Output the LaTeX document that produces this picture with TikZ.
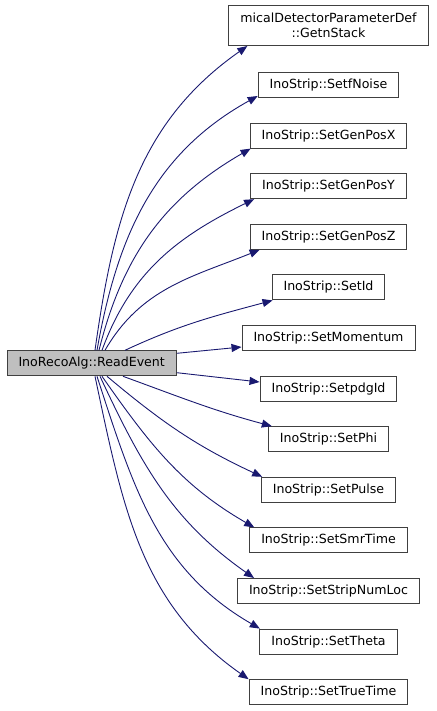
\documentclass[tikz,border=0pt]{standalone}
\usepackage{fontspec}
\setmainfont{DejaVu Sans}
\usetikzlibrary{arrows.meta,positioning}
\definecolor{edgeblue}{HTML}{191970}
\definecolor{rootgray}{HTML}{BFBFBF}
\definecolor{boxline}{HTML}{404040}

\begin{document}
\begin{tikzpicture}[
    x=1pt,y=-1pt,
    node distance=24.6pt,
    func/.style={draw=boxline,line width=1pt,fill=white,align=center,minimum height=25pt,
        inner xsep=11.5pt,inner ysep=3pt,font=\fontsize{12.6}{14.5}\selectfont},
    call/.style={-{Triangle[length=10pt,width=8pt]},line width=0.9pt,draw=edgeblue}
]
\useasboundingbox (0,0) rectangle (436,711);
% caller
\node[func,fill=rootgray] (readevent) at (91.7,363.3) {InoRecoAlg::ReadEvent};
% callees
\node[func] (setfnoise) at (328.5,85) {InoStrip::SetfNoise};
\node[func,minimum height=40pt,above=26pt of setfnoise] (getnstack)
    {micalDetectorParameterDef\\::GetnStack};
\node[func,below=of setfnoise] (genposx) {InoStrip::SetGenPosX};
\node[func,below=of genposx] (genposy) {InoStrip::SetGenPosY};
\node[func,below=of genposy] (genposz) {InoStrip::SetGenPosZ};
\node[func,below=of genposz] (setid) {InoStrip::SetId};
\node[func,below=of setid] (setmomentum) {InoStrip::SetMomentum};
\node[func,below=of setmomentum] (setpdgid) {InoStrip::SetpdgId};
\node[func,below=of setpdgid] (setphi) {InoStrip::SetPhi};
\node[func,below=of setphi] (setpulse) {InoStrip::SetPulse};
\node[func,below=of setpulse] (setsmrtime) {InoStrip::SetSmrTime};
\node[func,below=of setsmrtime] (stripnumloc) {InoStrip::SetStripNumLoc};
\node[func,below=of stripnumloc] (settheta) {InoStrip::SetTheta};
\node[func,below=of settheta] (settruetime) {InoStrip::SetTrueTime};
% calls upwards
\draw[call] ([xshift=3.3pt]readevent.north) to[out=82,in=215] ([xshift=19pt]getnstack.south west);
\draw[call] ([xshift=5.3pt]readevent.north) to[out=80,in=209] ([yshift=2pt]setfnoise.south west);
\draw[call] ([xshift=7.3pt]readevent.north) to[out=76,in=210] ([xshift=1pt]genposx.south west);
\draw[call] ([xshift=10.3pt]readevent.north) to[out=70,in=206] ([xshift=4pt]genposy.south west);
\draw[call] ([xshift=13.3pt]readevent.north) to[out=60,in=202] ([xshift=10pt]genposz.south west);
\draw[call] ([xshift=33.3pt]readevent.north) to[out=25,in=195] ([xshift=1pt]setid.south west);
% calls to the side
\draw[call] ([yshift=10pt]readevent.east) -- ([yshift=-9pt]setmomentum.west);
\draw[call] ([yshift=-9.4pt]readevent.east) -- ([yshift=6.6pt]setpdgid.west);
% calls downwards
\draw[call] ([xshift=31.3pt]readevent.south) to[out=-20,in=165] ([xshift=4pt]setphi.north west);
\draw[call] ([xshift=15.3pt]readevent.south) to[out=-40,in=155] ([xshift=1.4pt]setpulse.north west);
\draw[call] ([xshift=10.3pt]readevent.south) to[out=-55,in=150] ([xshift=5pt]setsmrtime.north west);
\draw[call] ([xshift=8.3pt]readevent.south) to[out=-65,in=145] ([xshift=17pt]stripnumloc.north west);
\draw[call] ([xshift=5.3pt]readevent.south) to[out=-72,in=150] ([xshift=0.5pt]settheta.north west);
\draw[call] ([xshift=3.3pt]readevent.south) to[out=-78,in=145] (settruetime.north west);
\end{tikzpicture}
\end{document}
